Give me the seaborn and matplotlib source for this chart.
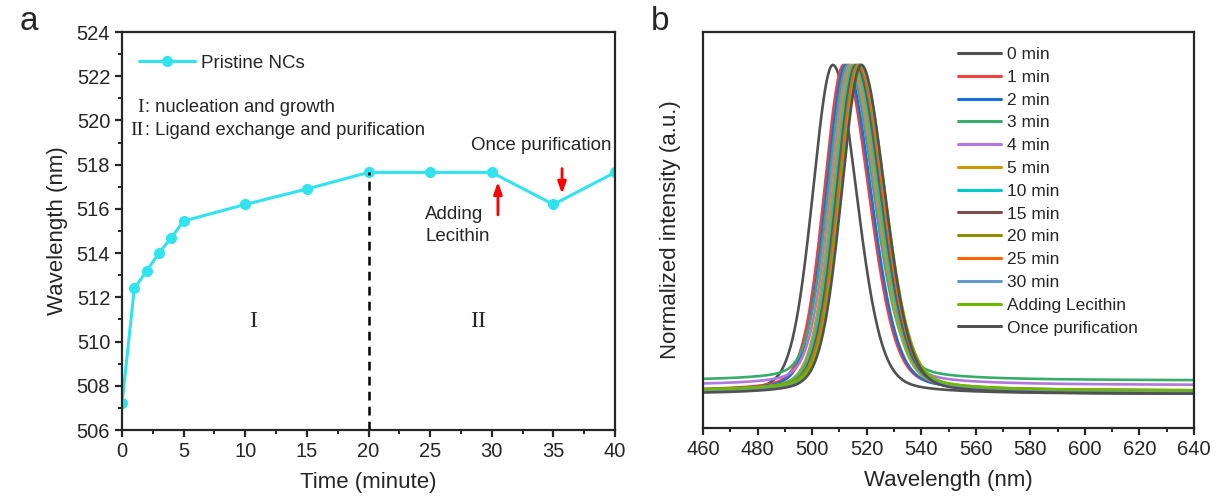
import numpy as np
import pandas as pd
import matplotlib
matplotlib.use("Agg")
import matplotlib.pyplot as plt
import seaborn as sns
from matplotlib.ticker import MultipleLocator

# ---------------- data: panel a ----------------
time_min = [0, 1, 2, 3, 4, 5, 10, 15, 20, 25, 30, 35, 40]
wavelength_nm = [507.2, 512.4, 513.2, 514.0, 514.7, 515.45, 516.2, 516.9,
                 517.65, 517.65, 517.65, 516.2, 517.65]

# ---------------- data: panel b (peak parameters) ----------------
spec_labels = ["0 min", "1 min", "2 min", "3 min", "4 min", "5 min", "10 min",
               "15 min", "20 min", "25 min", "30 min", "Adding Lecithin",
               "Once purification"]
peak_nm = [507.6, 511.6, 512.4, 513.2, 513.9, 514.6, 515.4, 516.1, 516.8,
           517.2, 517.6, 517.8, 518.0]
hwhm_left = [8.8, 8.6, 8.6, 8.6, 8.6, 8.6, 8.6, 8.6, 8.6, 8.6, 8.6, 8.6, 8.6]
hwhm_right = [10.4, 11.0, 11.0, 11.0, 11.0, 10.8, 10.8, 10.8, 10.8, 10.6, 10.6, 10.6, 10.4]
baseline = [0.0, 0.010, 0.008, 0.041, 0.027, 0.008, 0.008, 0.006, 0.010,
            0.005, 0.004, 0.010, 0.0]
spec_colors = ["#515151", "#F14040", "#1A6FDF", "#37AD6B", "#B177DE", "#CC9900",
               "#00CBCC", "#7D4E4E", "#8E8E00", "#FB6501", "#6699CC", "#6FB802",
               "#515151"]

x_ticks_a = [0, 5, 10, 15, 20, 25, 30, 35, 40]
y_ticks_a = [506, 508, 510, 512, 514, 516, 518, 520, 522, 524]
x_ticks_b = [460, 480, 500, 520, 540, 560, 580, 600, 620, 640]

# ---------------- style ----------------
sns.set_style("ticks")
plt.rcParams["font.family"] = ["Liberation Sans", "DejaVu Sans"]
plt.rcParams["axes.linewidth"] = 1.6
plt.rcParams["xtick.major.width"] = 1.6
plt.rcParams["ytick.major.width"] = 1.6
plt.rcParams["xtick.minor.width"] = 1.4
plt.rcParams["ytick.minor.width"] = 1.4
plt.rcParams["xtick.major.size"] = 5
plt.rcParams["ytick.major.size"] = 5
plt.rcParams["xtick.minor.size"] = 3
plt.rcParams["ytick.minor.size"] = 3
plt.rcParams["xtick.direction"] = "out"
plt.rcParams["ytick.direction"] = "out"

fig = plt.figure(figsize=(12.17, 5.04), dpi=100)
W, H = 1217, 504
def px_axes(l, r, t, b):
    return fig.add_axes([l / W, 1 - b / H, (r - l) / W, (b - t) / H])

ax1 = px_axes(122, 615, 32, 430)
ax2 = px_axes(703, 1194, 32, 428)

# ---------------- panel a ----------------
cyan = "#30E3EE"
sns.lineplot(x=time_min, y=wavelength_nm, ax=ax1, color=cyan, linewidth=2.2,
             marker="o", markersize=8, markeredgecolor=cyan, markeredgewidth=0,
             label="Pristine NCs", sort=False)
ax1.set_xlim(0, 40)
ax1.set_ylim(506, 524)
ax1.set_xticks(x_ticks_a)
ax1.set_yticks(y_ticks_a)
ax1.xaxis.set_minor_locator(MultipleLocator(2.5))
ax1.yaxis.set_minor_locator(MultipleLocator(1))
ax1.tick_params(labelsize=14.5)
ax1.set_xlabel("Time (minute)", fontsize=16, labelpad=8)
ax1.set_ylabel("Wavelength (nm)", fontsize=16, labelpad=6)
for s in ax1.spines.values():
    s.set_visible(True)

ax1.vlines(time_min[8], 506, wavelength_nm[8], colors="black",
           linestyles=(0, (3.5, 2.5)), linewidth=1.8)

leg1 = ax1.legend(loc="upper left", bbox_to_anchor=(0.0, 0.985), frameon=False,
                  fontsize=13.5, handlelength=3.0, handletextpad=0.3)

ax1.text(1.75, 520.6, "I", family="Liberation Serif", fontsize=14,
         ha="right", va="center")
ax1.text(1.9, 520.6, ": nucleation and growth", fontsize=13.2, va="center")
ax1.text(1.75, 519.55, "II", family="Liberation Serif", fontsize=14,
         ha="right", va="center")
ax1.text(1.9, 519.55, ": Ligand exchange and purification", fontsize=13.2, va="center")

ax1.text(10.6, 510.9, "I", family="Liberation Serif", fontsize=17, ha="center", va="center")
ax1.text(28.9, 510.9, "II", family="Liberation Serif", fontsize=17, ha="center", va="center")

ax1.text(24.6, 515.25, "Adding\nLecithin", fontsize=13.5, ha="left", va="center",
         linespacing=1.45)
ax1.text(34.0, 518.85, "Once purification", fontsize=13.5, ha="center", va="center")

ax1.annotate("", xy=(30.5, 517.35), xytext=(30.5, 515.6),
             arrowprops=dict(arrowstyle="-|>,head_length=0.7,head_width=0.25",
                             color="red", lw=2.0))
ax1.annotate("", xy=(35.7, 516.55), xytext=(35.7, 517.95),
             arrowprops=dict(arrowstyle="-|>,head_length=0.7,head_width=0.25",
                             color="red", lw=2.0))

# ---------------- panel b ----------------
wl = np.arange(460, 640.01, 0.25)
rows = []
eta = 0.22
for lab, c0, hl, hr, b in zip(spec_labels, peak_nm, hwhm_left, hwhm_right, baseline):
    h = np.where(wl < c0, hl, hr)
    d = (wl - c0) / h
    shape = eta / (1 + d ** 2) + (1 - eta) * np.exp(-np.log(2) * d ** 2)
    y = b + (1 - b) * shape
    rows.append(pd.DataFrame({"Wavelength": wl, "Intensity": y, "Sample": lab}))
spec = pd.concat(rows, ignore_index=True)

sns.lineplot(data=spec, x="Wavelength", y="Intensity", hue="Sample",
             hue_order=spec_labels, palette=dict(zip(spec_labels, spec_colors)),
             linewidth=1.9, ax=ax2, sort=False)
ax2.set_xlim(460, 640)
ax2.set_ylim(-0.103, 1.10)
ax2.set_xticks(x_ticks_b)
ax2.xaxis.set_minor_locator(MultipleLocator(10))
ax2.set_yticks([])
ax2.tick_params(labelsize=14.5)
ax2.set_xlabel("Wavelength (nm)", fontsize=16, labelpad=8)
ax2.set_ylabel("Normalized intensity (a.u.)", fontsize=16, labelpad=16)
for s in ax2.spines.values():
    s.set_visible(True)

handles, labels = ax2.get_legend_handles_labels()
ax2.legend(handles, labels, loc="upper left", bbox_to_anchor=(0.505, 0.98),
           frameon=False, fontsize=12.5, handlelength=2.5, handletextpad=0.35,
           labelspacing=0.44, borderaxespad=0)
for line in ax2.get_legend().get_lines():
    line.set_linewidth(2.2)

fig.text(20 / W, 1 - 22 / H, "a", fontsize=24, ha="left", va="center")
fig.text(651 / W, 1 - 22 / H, "b", fontsize=24, ha="left", va="center")

fig.savefig("out.png", dpi=100)
